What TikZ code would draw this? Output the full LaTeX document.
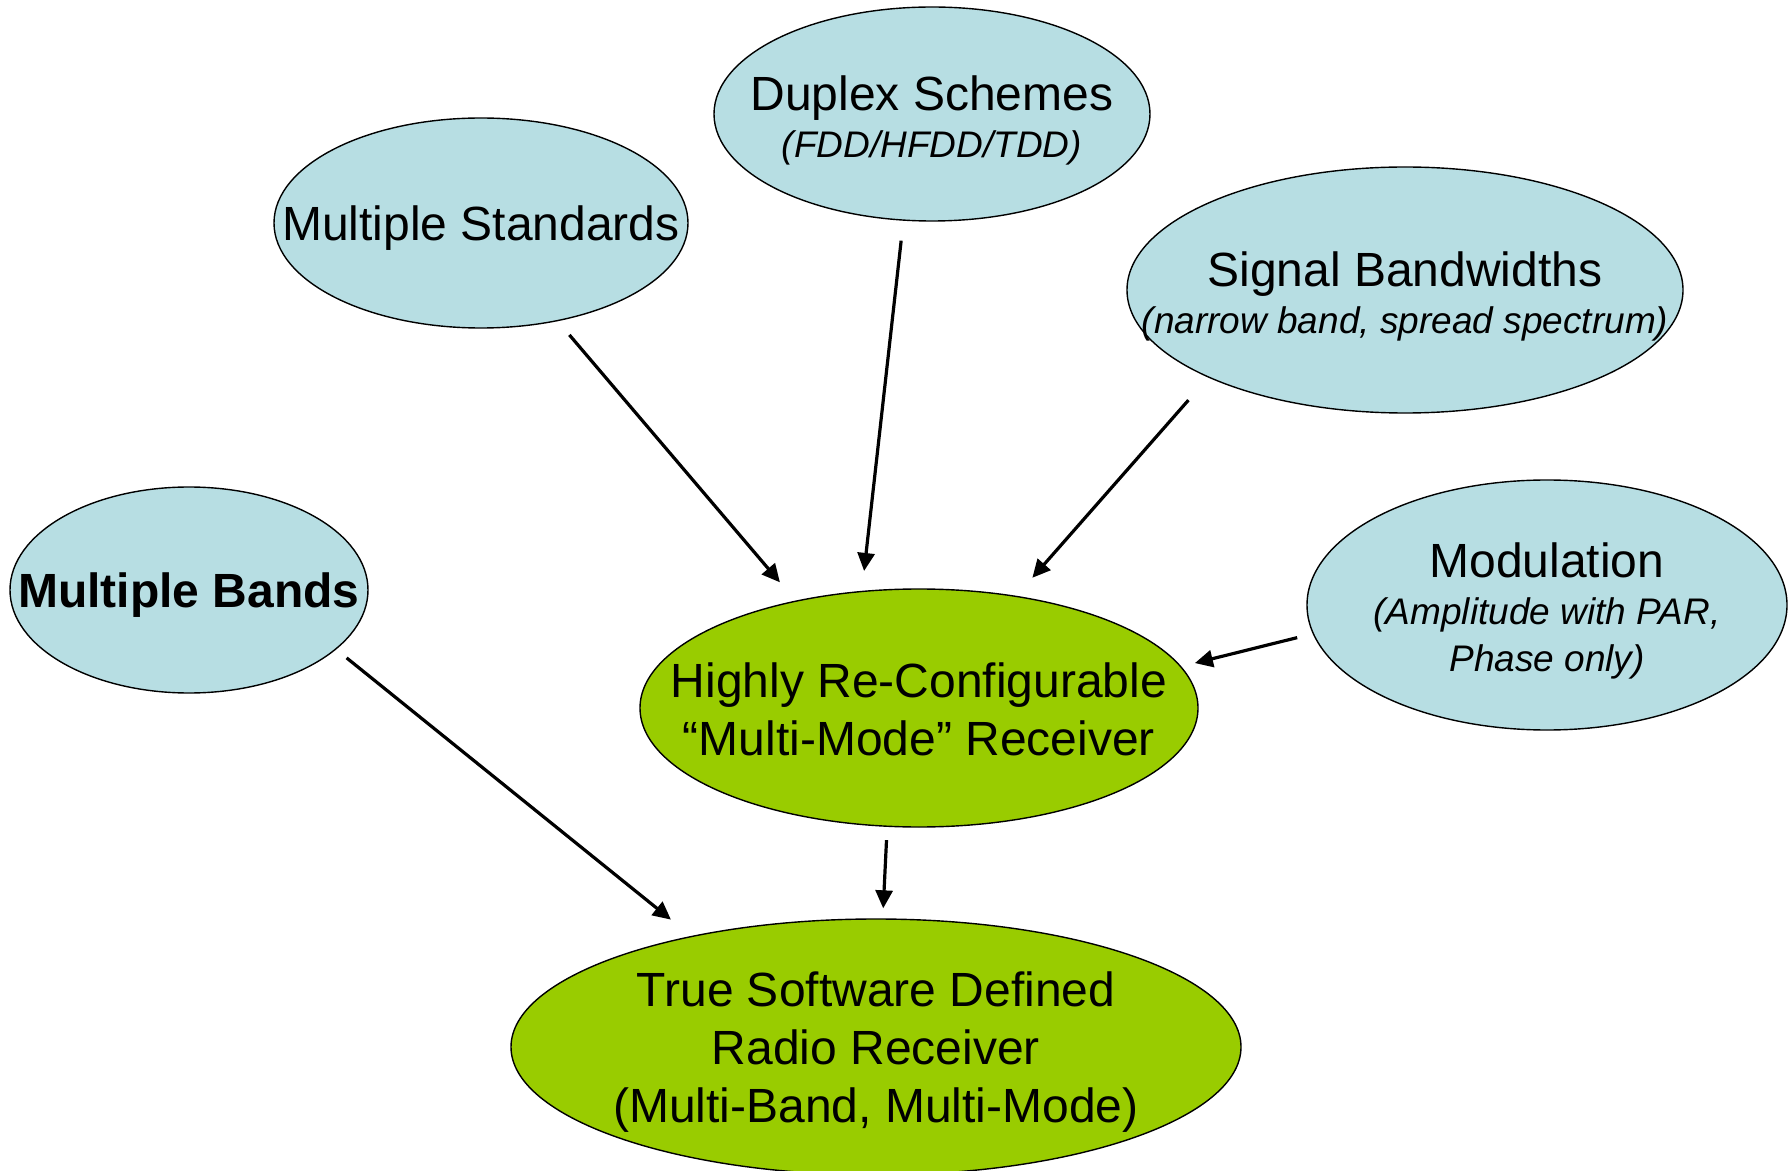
\documentclass[tikz,border=0pt]{standalone}
\usepackage{fontspec}
\setmainfont{Liberation Sans}
\usetikzlibrary{shapes.geometric,arrows.meta}
\definecolor{paleblue}{RGB}{183,222,227}
\definecolor{limegreen}{RGB}{153,204,0}
\newcommand{\subline}[1]{{\fontsize{18.5}{22}\selectfont\itshape #1}}

\begin{document}
\begin{tikzpicture}[x=0.5pt,y=-0.5pt,line join=round,
    bubble/.style={ellipse,draw,line width=0.7pt,inner sep=0pt},
    feat/.style={bubble,fill=paleblue},
    core/.style={bubble,fill=limegreen},
    txt/.style={align=center,yshift=-2.5pt,font=\fontsize{24}{29}\selectfont},
    txtpair/.style={align=center,yshift=-3pt,font=\fontsize{24}{23.5}\selectfont},
    link/.style={line width=1.6pt,-{Triangle[length=9pt,width=8.5pt]}}]
\useasboundingbox (0,0) rectangle (1789,1171);

% requirement bubbles
\node[feat,minimum width=207pt,minimum height=105pt] (stds) at (481,223) {};
\node[feat,minimum width=218pt,minimum height=107pt] (duplex) at (932,114) {};
\node[feat,minimum width=278pt,minimum height=123pt] (signal) at (1405,290) {};
\node[feat,minimum width=179pt,minimum height=103pt] (bands) at (189,590) {};
\node[feat,minimum width=240pt,minimum height=125pt] (modul) at (1547,605) {};
% receivers
\node[core,minimum width=279pt,minimum height=119pt] (recv) at (919,708) {};
\node[core,minimum width=365pt,minimum height=128pt] (sdr) at (876,1047) {};

% texts
\node[txt] (stds-t) at (stds) {Multiple Standards};
\node[txtpair] (duplex-t) at (duplex) {Duplex Schemes\\\subline{(FDD/HFDD/TDD)}};
\node[txtpair] (signal-t) at (signal) {Signal Bandwidths\\\subline{(narrow band, spread spectrum)}};
\node[txt] (bands-t) at (bands) {\bfseries Multiple Bands};
\node[txtpair] (modul-t) at (modul) {Modulation\\\subline{(Amplitude with PAR,}\\\subline{Phase only)}};
\node[txt,yshift=2pt] (recv-t) at (recv) {Highly Re-Configurable\\ “Multi-Mode” Receiver};
\node[txt] (sdr-t) at (sdr) {True Software Defined\\Radio Receiver\\(Multi-Band, Multi-Mode)};

% arrows
\draw[link,shorten <=9pt,shorten >=12pt] (stds.-52.5) -- (recv.139.3);
\draw[link,shorten <=10pt,shorten >=10pt] (duplex.-105) -- (recv.116);
\draw[link,shorten <=15pt,shorten >=12pt] (signal.-156.6) -- (recv.49.6);
\draw[link,shorten <=8pt,shorten >=7pt] (modul.-173.6) -- (recv.9.6);
\draw[link,shorten <=6.7pt,shorten >=13pt] (bands.-22.4) -- (sdr.149);
\draw[link,shorten <=6.6pt,shorten >=5pt] (recv.-105.4) -- (sdr.87);
\end{tikzpicture}
\end{document}
